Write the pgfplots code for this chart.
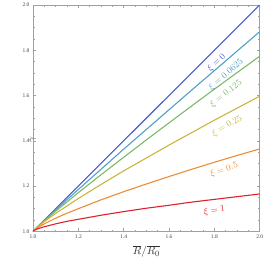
\documentclass[border=0pt]{standalone}
\usepackage{fontspec}
\setmainfont{Liberation Serif}
\usepackage{pgfplots}
\pgfplotsset{compat=1.18}
\definecolor{cB}{RGB}{72,88,208}
\definecolor{cT}{RGB}{82,160,196}
\definecolor{cG}{RGB}{124,184,104}
\definecolor{cY}{RGB}{200,182,62}
\definecolor{cO}{RGB}{238,140,52}
\definecolor{cR}{RGB}{222,34,42}
\definecolor{fr}{RGB}{160,160,160}
\begin{document}
\begin{tikzpicture}
\begin{axis}[
  at={(0,0)}, anchor=south west,
  scale only axis, width=226.7pt, height=226.3pt,
  xmin=1, xmax=2, ymin=1, ymax=2,
  xtick={1,1.2,...,2.01}, ytick={1,1.2,...,2.01},
  minor tick num=3,
  tick align=inside,
  major tick length=3pt, minor tick length=1.6pt,
  axis line style={fr, line width=0.6pt},
  every tick/.style={fr, line width=0.4pt},
  xticklabel style={/pgf/number format/.cd, fixed, fixed zerofill, precision=1},
  yticklabel style={/pgf/number format/.cd, fixed, fixed zerofill, precision=1},
  /pgf/number format/assume math mode=true,
  tick label style={font=\fontsize{5.5}{6}\selectfont, text=black!75},
  xlabel={$\overline{R}/\overline{R_0}$},
  ylabel={$\gamma$},
  xlabel style={font=\fontsize{11}{12}\selectfont, text=black!80, at={(axis description cs:0.5,0)}, anchor=center, yshift=-20pt},
  ylabel style={font=\fontsize{10}{12}\selectfont, text=black!80, at={(axis description cs:0,0.5)}, anchor=center, xshift=-21pt},
  clip=true,
  every axis plot/.append style={line width=1.1pt, no markers},
]
\addplot[cB] coordinates {(1,1) (2,2)};
\addplot[cT] coordinates {(1,1) (1.02,1.020) (1.05,1.048) (1.1,1.094) (1.15,1.140) (1.2,1.185) (1.3,1.274) (1.4,1.363) (1.5,1.450) (1.6,1.537) (1.7,1.624) (1.8,1.710) (1.9,1.796) (2,1.882)};
\addplot[cG] coordinates {(1,1) (1.02,1.020) (1.05,1.046) (1.1,1.089) (1.15,1.130) (1.2,1.171) (1.3,1.250) (1.4,1.327) (1.5,1.404) (1.6,1.479) (1.7,1.554) (1.8,1.628) (1.9,1.701) (2,1.774)};
\addplot[cY] coordinates {(1,1) (1.02,1.019) (1.05,1.043) (1.1,1.079) (1.15,1.112) (1.2,1.145) (1.3,1.207) (1.4,1.267) (1.5,1.324) (1.6,1.381) (1.7,1.436) (1.8,1.491) (1.9,1.544) (2,1.597)};
\addplot[cO] coordinates {(1,1) (1.02,1.016) (1.05,1.033) (1.1,1.058) (1.15,1.080) (1.2,1.100) (1.3,1.139) (1.4,1.175) (1.5,1.209) (1.6,1.242) (1.7,1.274) (1.8,1.305) (1.9,1.335) (2,1.364)};
\addplot[cR] coordinates {(1,1) (1.005,1.004) (1.02,1.011) (1.05,1.020) (1.1,1.033) (1.15,1.044) (1.2,1.053) (1.3,1.071) (1.4,1.087) (1.5,1.102) (1.6,1.115) (1.7,1.129) (1.8,1.141) (1.9,1.153) (2,1.165)};
\node[cB, rotate=44, font=\fontsize{9.5}{11}\selectfont] at (axis cs:1.81,1.745) {$\xi = 0$};
\node[cT, rotate=41, font=\fontsize{9.5}{11}\selectfont] at (axis cs:1.852,1.692) {$\xi = 0.0625$};
\node[cG, rotate=38, font=\fontsize{9.5}{11}\selectfont] at (axis cs:1.852,1.608) {$\xi = 0.125$};
\node[cY, rotate=30, font=\fontsize{9.5}{11}\selectfont] at (axis cs:1.856,1.465) {$\xi = 0.25$};
\node[cO, rotate=18, font=\fontsize{9.5}{11}\selectfont] at (axis cs:1.843,1.272) {$\xi = 0.5$};
\node[cR, rotate=8, font=\fontsize{9.5}{11}\selectfont] at (axis cs:1.80,1.092) {$\xi = 1$};
\end{axis}
\pgfresetboundingbox
\path[use as bounding box] (-33pt,-31.7pt) rectangle (233pt,231.3pt);
\end{tikzpicture}
\end{document}
